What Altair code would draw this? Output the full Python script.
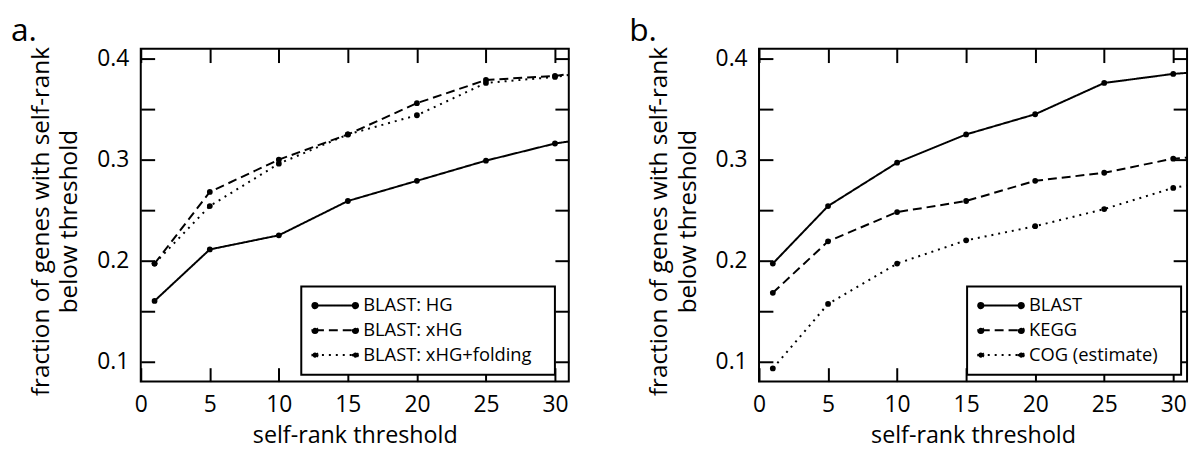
import altair as alt
import pandas as pd

FONT = "Open Sans"

# ---- data ----
x_vals = [1, 5, 10, 15, 20, 25, 30]
x_edge = 31

a_names = ["BLAST: HG", "BLAST: xHG", "BLAST: xHG+folding"]
a_hg = [0.160, 0.211, 0.225, 0.259, 0.279, 0.299, 0.316]
a_xhg = [0.197, 0.268, 0.300, 0.325, 0.356, 0.379, 0.383]
a_fold = [0.197, 0.254, 0.296, 0.325, 0.344, 0.376, 0.382]
a_edge = [0.318, 0.385, 0.384]

b_names = ["BLAST", "KEGG", "COG (estimate)"]
b_blast = [0.197, 0.254, 0.297, 0.325, 0.345, 0.376, 0.385]
b_kegg = [0.168, 0.219, 0.248, 0.259, 0.279, 0.287, 0.301]
b_cog = [0.093, 0.157, 0.197, 0.220, 0.234, 0.251, 0.272]
b_edge = [0.386, 0.302, 0.2745]

x_label_values = [0, 5, 10, 15, 20, 25, 30]
y_label_values = [0.1, 0.2, 0.3, 0.4]
y_tick_values = [0.1, 0.15, 0.2, 0.25, 0.3, 0.35, 0.4]

W, H = 432, 336
DASHES = [[1, 0], [9, 5], [2, 5]]
SYM = ("M-2.55,0H2.55"
       "M-2.22,0A0.33,0.33,0,1,1,-2.88,0A0.33,0.33,0,1,1,-2.22,0Z"
       "M2.88,0A0.33,0.33,0,1,1,2.22,0A0.33,0.33,0,1,1,2.88,0Z")


def build_df(names, series, edges):
    rows = []
    for name, vals, edge in zip(names, series, edges):
        for i, (xv, yv) in enumerate(zip(x_vals, vals)):
            rows.append({"series": name, "x": xv, "y": yv, "pt": 1, "order": i})
        rows.append({"series": name, "x": x_edge, "y": edge, "pt": 0, "order": len(vals)})
    return pd.DataFrame(rows)


def panel(df, names, letter, legend_x, legend_y):
    xs = alt.Scale(domain=[0, 31], nice=False, zero=False)
    ys = alt.Scale(domain=[0.08, 0.41], nice=False, zero=False)
    base = alt.Chart(df)

    lines = base.mark_line(color="black", strokeWidth=2).encode(
        x=alt.X("x:Q", scale=xs, axis=alt.Axis(
            orient="bottom", values=x_label_values, ticks=False, tickSize=0,
            domain=False, grid=False, labelFlush=False, labelPadding=12,
            labelFont=FONT, labelFontSize=23, labelColor="black",
            title="self-rank threshold", titlePadding=7,
            titleFont=FONT, titleFontSize=23.5, titleColor="black",
            titleFontWeight="normal")),
        y=alt.Y("y:Q", scale=ys, axis=alt.Axis(
            orient="left", values=y_label_values, format=".1f", ticks=False,
            tickSize=0, domain=False, grid=False, labelPadding=12,
            labelFont=FONT, labelFontSize=23, labelColor="black",
            title=["fraction of genes with self-rank", "below threshold"],
            titlePadding=15, titleY=H / 2 + 6, titleFont=FONT, titleFontSize=24.5,
            titleColor="black", titleFontWeight="normal", titleLineHeight=29)),
        strokeDash=alt.StrokeDash("series:N",
            scale=alt.Scale(domain=names, range=DASHES),
            sort=names,
            legend=alt.Legend(
                title="\u00a0", titleOrient="right", titlePadding=13,
                titleFontSize=10,
                orient="none", legendX=legend_x, legendY=legend_y,
                symbolType=SYM, symbolSize=256, symbolStrokeWidth=2,
                symbolStrokeColor="black", symbolFillColor="black",
                labelFont=FONT, labelFontSize=18.5, labelColor="black",
                labelLimit=400,
                strokeColor="black", fillColor="white", padding=10,
                symbolOffset=15, labelOffset=19, rowPadding=6)),
        order="order:Q",
    )

    points = base.transform_filter("datum.pt == 1").mark_circle(
        color="black", size=34, opacity=1).encode(
        x=alt.X("x:Q", scale=xs, axis=alt.Axis(
            orient="top", offset=-H, values=x_label_values, labels=False,
            ticks=True, tickSize=14, tickWidth=2, tickColor="black",
            domain=False, grid=False, title=None)),
        y=alt.Y("y:Q", scale=ys, axis=alt.Axis(
            orient="right", offset=-W, values=y_tick_values, labels=False,
            ticks=True, tickSize=14, tickWidth=2, tickColor="black",
            domain=False, grid=False, title=None)),
        detail="series:N",
    )

    ghost = base.transform_filter("datum.pt == 1").mark_circle(
        color="black", size=34, opacity=0).encode(
        x=alt.X("x:Q", scale=xs, axis=alt.Axis(
            orient="bottom", offset=-H, values=x_label_values, labels=False,
            ticks=True, tickSize=14, tickWidth=2, tickColor="black",
            domain=False, grid=False, title=None)),
        y=alt.Y("y:Q", scale=ys, axis=alt.Axis(
            orient="left", offset=-W, values=y_tick_values, labels=False,
            ticks=True, tickSize=14, tickWidth=2, tickColor="black",
            domain=False, grid=False, title=None)),
        detail="series:N",
    )

    return alt.layer(lines, points, ghost).resolve_axis(
        x="independent", y="independent").properties(
        width=W, height=H,
        title=alt.TitleParams(letter, anchor="start", frame="group", fontSize=32,
                              fontWeight="normal", font=FONT, color="black",
                              dx=-131, offset=-26, baseline="alphabetic"))


df_a = build_df(a_names, [a_hg, a_xhg, a_fold], a_edge)
df_b = build_df(b_names, [b_blast, b_kegg, b_cog], b_edge)

pa = panel(df_a, a_names, "a.", 162, 240)
pb = panel(df_b, b_names, "b.", 210, 240)

chart = alt.hconcat(pa, pb, spacing=55).resolve_scale(
    strokeDash="independent").resolve_legend(strokeDash="independent").properties(
    padding={"left": 2, "top": 3, "right": 0, "bottom": 0},
    background="white",
).configure_view(stroke="black", strokeWidth=2).configure_legend(strokeWidth=2)

chart.save("out.html", embed_options={"renderer": "svg", "actions": False})
